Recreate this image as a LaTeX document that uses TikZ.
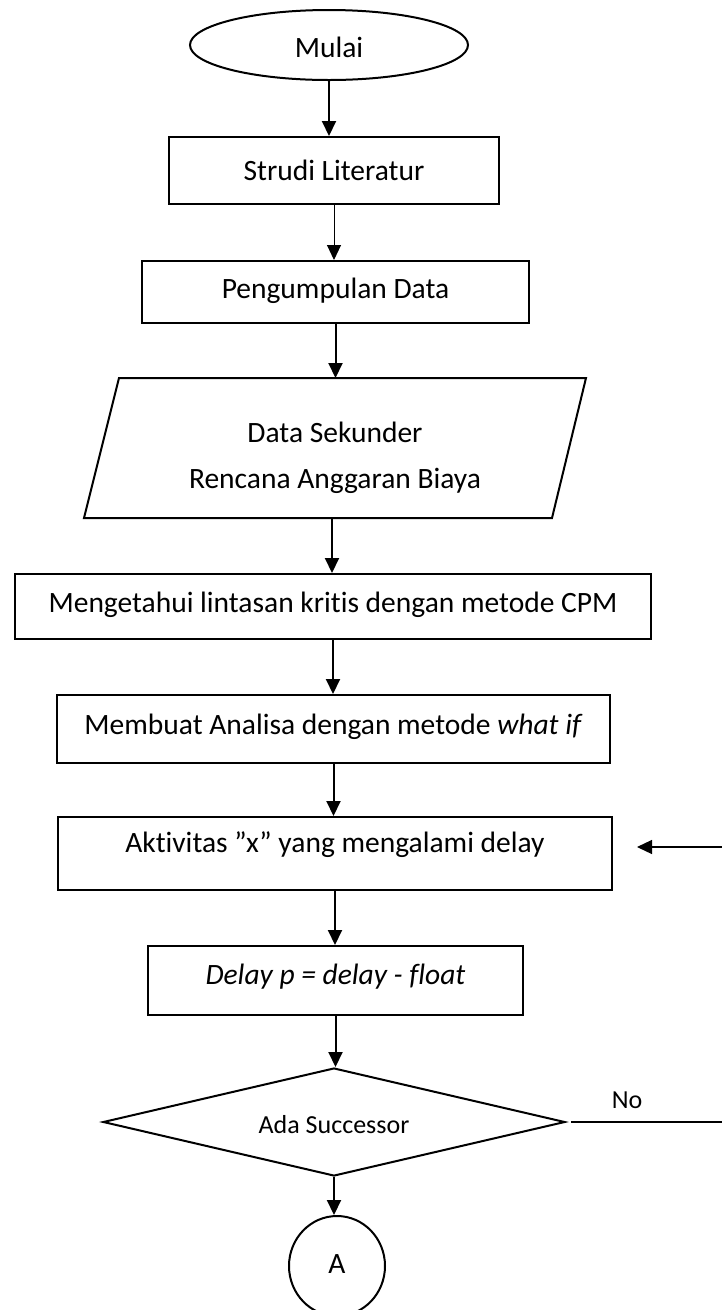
\documentclass[tikz,border=0pt]{standalone}
\usepackage{fontspec}
\setmainfont{Carlito}[Ligatures=NoCommon]
\usetikzlibrary{shapes.geometric,arrows.meta}
\begin{document}
\begin{tikzpicture}[x=1pt,y=1pt,
  box/.style={draw,line width=2pt,rectangle,inner sep=0pt},
  txt/.style={inner sep=0pt,font=\fontsize{29.5}{35}\selectfont},
  stxt/.style={inner sep=0pt,font=\fontsize{26}{31}\selectfont},
  arr/.style={line width=2pt,-{Triangle[length=15pt,width=14pt]}},
  thinarr/.style={line width=1pt,-{Triangle[length=15pt,width=14pt]}}]
\useasboundingbox (0,0) rectangle (722,-1310);
\begin{scope}
\clip (0,0) rectangle (722,-1310);
% nodes
\node[draw,line width=2pt,ellipse,minimum width=278pt,minimum height=70pt,inner sep=0pt] (start) at (329,-45) {};
\node[txt] (starttxt) at (329,-47) {Mulai};
\node[box,minimum width=330pt,minimum height=67pt] (lit) at (334,-170.5) {};
\node[txt] (littxt) at (334,-170) {Strudi Literatur};
\node[box,minimum width=387pt,minimum height=62pt] (peng) at (335.5,-292) {};
\node[txt] (pengtxt) at (335.5,-291) {Pengumpulan Data};
% parallelogram
\coordinate (p1) at (119,-378);
\coordinate (p2) at (586,-378);
\coordinate (p3) at (552,-518);
\coordinate (p4) at (84,-518);
\draw[line width=2pt] (p1) -- (p2) -- (p3) -- (p4) -- cycle;
\coordinate (paratop) at (335,-378);
\coordinate (parabot) at (332,-518);
\node[txt] (paratxt1) at (335,-432) {Data Sekunder};
\node[txt] (paratxt2) at (335,-481) {Rencana Anggaran Biaya};
\node[box,minimum width=636pt,minimum height=65pt] (cpm) at (333,-606.5) {};
\node[txt] (cpmtxt) at (333,-605) {Mengetahui lintasan kritis dengan metode CPM};
\node[box,minimum width=553pt,minimum height=68pt] (whatif) at (333.5,-729) {};
\node[txt] (whatiftxt) at (333.5,-727) {Membuat Analisa dengan metode \textit{what if}};
\node[box,minimum width=554pt,minimum height=73pt] (akt) at (335,-853.5) {};
\node[txt] (akttxt) at (335,-845) {Aktivitas ”x” yang mengalami delay};
\node[box,minimum width=375pt,minimum height=69pt] (delay) at (335.5,-980.5) {};
\node[txt] (delaytxt) at (335.5,-977) {\textit{Delay p = delay - float}};
\node[draw,line width=2pt,diamond,aspect=4.28,minimum width=462pt,minimum height=108pt,inner sep=0pt] (dia) at (334,-1122) {};
\node[stxt] (diatxt) at (334,-1125) {Ada Successor};
\node[draw,line width=2pt,ellipse,minimum width=96pt,minimum height=100pt,inner sep=0pt] (A) at (337,-1266) {};
\node[txt] (Atxt) at (337,-1264) {A};
\node[stxt] (no) at (627,-1100) {No};
% connectors
\draw[arr] (start.south) -- (start.south |- lit.north);
\draw[thinarr] (lit.south) -- (lit.south |- peng.north);
\draw[arr] (peng.south) -- (peng.south |- paratop);
\draw[arr] (parabot) -- (parabot |- cpm.north);
\draw[arr] (cpm.south) -- (cpm.south |- whatif.north);
\draw[arr] (whatif.south) -- (whatif.south |- akt.north);
\draw[arr] (akt.south) -- (akt.south |- delay.north);
\draw[arr] (delay.south) -- (delay.south |- dia.north);
\draw[arr] (dia.south) -- (dia.south |- A.north);
\coordinate (nostart) at ([xshift=5pt]dia.east);
\coordinate (noend) at (722,-1122);
\draw[line width=1.2pt] (nostart) -- (noend);
\coordinate (fbstart) at (722,-847);
\coordinate (fbend) at (637,-847);
\draw[line width=1.2pt,-{Triangle[length=15pt,width=14pt]}] (fbstart) -- (fbend);
\end{scope}
\end{tikzpicture}
\end{document}
